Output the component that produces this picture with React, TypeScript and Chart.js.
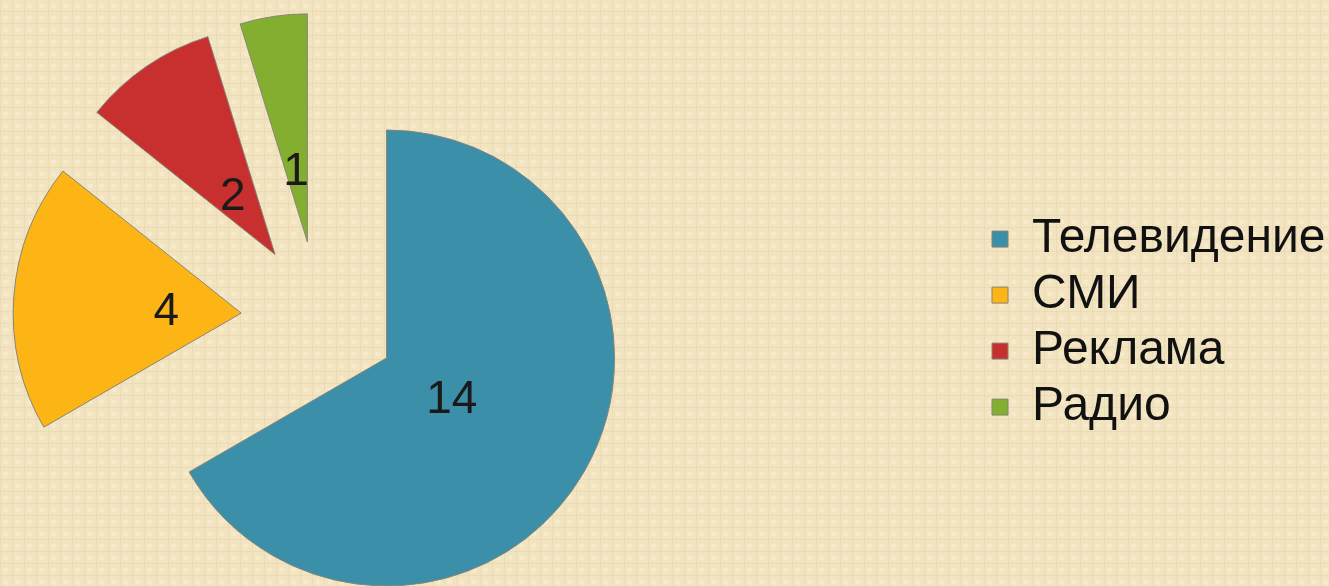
import React, { useEffect, useRef } from "react";
import { Chart, registerables } from "chart.js";

Chart.register(...registerables);

// ---- data ----
const categories: string[] = ["Телевидение", "СМИ", "Реклама", "Радио"];
const values: number[] = [14, 4, 2, 1];
const colors: string[] = ["#3B8FA8", "#FDB515", "#C8302F", "#84AE2F"];

// ---- style / layout constants ----
const W = 1329;
const H = 586;
const FONT = '"Liberation Sans", Arial, sans-serif';
const LEGEND_FONT_SIZE = 48;
const LABEL_FONT_SIZE = 46;
const PIE_CX = 319;
const PIE_CY = 319;
const RADIUS = 228;
const EXPLODE = 78;
const LABEL_POS = 0.33;
const LABEL_DY = 5;
const BOX = 16;
const LABEL_PAD = 8;
const LEGEND_BOX_X = 992;

const explodePlugin = {
  id: "explodeSlices",
  afterDatasetUpdate(chart: any, args: any) {
    args.meta.data.forEach((arc: any) => {
      const mid = (arc.startAngle + arc.endAngle) / 2;
      arc.x += Math.cos(mid) * EXPLODE;
      arc.y += Math.sin(mid) * EXPLODE;
    });
  },
};

const legendPlacePlugin = {
  id: "legendPlace",
  afterLayout(chart: any) {
    const lg = chart.legend;
    if (!lg) return;
    const dx = LEGEND_BOX_X - LABEL_PAD - lg.left;
    lg.left += dx;
    lg.right += dx;
  },
};

const sliceLabelPlugin = {
  id: "sliceLabels",
  afterDatasetsDraw(chart: any) {
    const ctx = chart.ctx;
    const meta = chart.getDatasetMeta(0);
    const data = chart.data.datasets[0].data as number[];
    ctx.save();
    ctx.font = `${LABEL_FONT_SIZE}px ${FONT}`;
    ctx.fillStyle = "#1a1a1a";
    ctx.textAlign = "center";
    ctx.textBaseline = "middle";
    meta.data.forEach((arc: any, i: number) => {
      const mid = (arc.startAngle + arc.endAngle) / 2;
      const r = arc.outerRadius * LABEL_POS;
      ctx.fillText(String(data[i]), arc.x + Math.cos(mid) * r, arc.y + Math.sin(mid) * r + LABEL_DY);
    });
    ctx.restore();
  },
};

export default function App() {
  const canvasRef = useRef<HTMLCanvasElement | null>(null);

  useEffect(() => {
    if (!canvasRef.current) return;
    const m = document.createElement("canvas").getContext("2d")!;
    m.font = `${LEGEND_FONT_SIZE}px ${FONT}`;
    const textW = Math.max(...categories.map((c) => m.measureText(c).width));
    const legendW = LABEL_PAD + BOX + LEGEND_FONT_SIZE / 2 + textW + 10;
    const padRight = Math.max(W - 2 * PIE_CX - legendW, 0);
    const padTop = 2 * PIE_CY - H;

    const chart = new Chart(canvasRef.current, {
      type: "pie",
      data: {
        labels: categories,
        datasets: [
          {
            data: values,
            backgroundColor: colors,
            borderColor: "#85857a",
            borderWidth: 1,
          },
        ],
      },
      options: {
        responsive: false,
        animation: false,
        radius: RADIUS,
        layout: { padding: { left: 0, right: padRight, top: padTop, bottom: 0 } },
        plugins: {
          tooltip: { enabled: false },
          legend: {
            position: "right",
            align: "center",
            title: { display: true, text: "", padding: { top: 7, bottom: 0 }, font: { size: 1 } },
            labels: {
              boxWidth: BOX,
              boxHeight: BOX,
              padding: LABEL_PAD,
              color: "#111111",
              font: { family: FONT, size: LEGEND_FONT_SIZE },
            },
          },
        },
      } as any,
      plugins: [explodePlugin, legendPlacePlugin, sliceLabelPlugin],
    });
    return () => chart.destroy();
  }, []);

  return (
    <div
      style={{
        position: "fixed",
        left: 0,
        top: 0,
        width: W,
        height: H,
        overflow: "hidden",
        backgroundColor: "#F2E4C0",
        backgroundImage:
          "linear-gradient(90deg, rgba(205,185,135,0.18) 1px, rgba(0,0,0,0) 1px), linear-gradient(0deg, rgba(205,185,135,0.18) 1px, rgba(0,0,0,0) 1px), radial-gradient(circle at 50% 50%, rgba(255,248,225,0.35) 0 2px, rgba(0,0,0,0) 3px)",
        backgroundSize: "12px 12px, 12px 12px, 12px 12px",
      }}
    >
      <canvas ref={canvasRef} width={W} height={H} style={{ position: "absolute", left: 0, top: 0 }} />
    </div>
  );
}
